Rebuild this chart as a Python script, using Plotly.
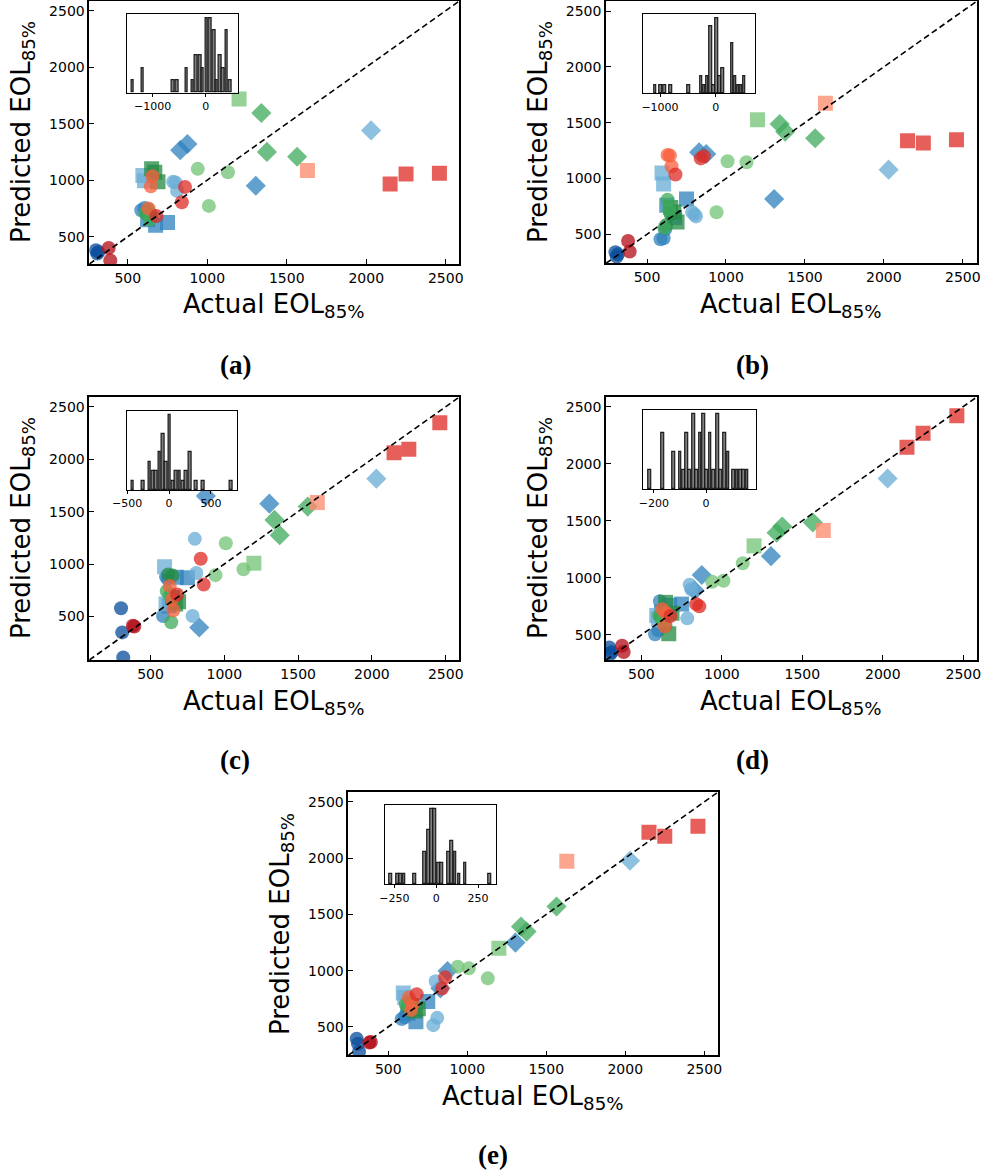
import plotly.graph_objects as go

W, H = 985, 1171

# ---- test set: one entry per cell -------------------------------------------
# colour family / shade and marker shape for every cell
shade = ["DB", "DB", "DB", "MB", "MB", "MB", "LB", "LB", "MB", "MB", "MB",
         "LB", "LB", "LB", "MB", "MB", "MB", "LB",
         "DG", "DG", "DG", "DG", "DG", "MG", "MG", "MG", "LG", "LG", "LG", "LG",
         "MG", "MG", "MG",
         "DR", "DR", "O", "O", "O", "R", "R", "R", "LR", "R", "R", "R"]
shape = ["circle", "circle", "circle", "circle", "circle", "circle", "square", "square",
         "square", "square", "square", "circle", "circle", "circle",
         "diamond", "diamond", "diamond", "diamond",
         "square", "square", "square", "circle", "circle", "circle", "circle", "circle",
         "circle", "circle", "circle", "square", "diamond", "diamond", "diamond",
         "circle", "circle", "circle", "circle", "circle", "circle", "circle", "circle",
         "square", "square", "square", "square"]

actual = [300, 308, 315, 585, 605, 615, 595, 605, 625, 675, 750, 785, 800, 810,
          830, 875, 1305, 2030,
          650, 670, 690, 620, 650, 610, 630, 640, 940, 1010, 1130, 1200,
          1340, 1375, 1565,
          380, 390, 630, 645, 655, 680, 840, 860, 1630, 2150, 2250, 2460]

pred_a = [380, 350, 365, 733, 754, 720, 1040, 995, 650, 600, 625, 985, 980, 905,
          1265, 1320, 950, 1440,
          1100, 1070, 985, 700, 690, 710, 740, 650, 1100, 772, 1070, 1718,
          1594, 1250, 1207,
          400, 290, 750, 945, 1035, 682, 805, 940, 1085, 965, 1055, 1062]

pred_b = [340, 300, 320, 455, 465, 545, 1050, 950, 760, 650, 815, 700, 680, 660,
          1234, 1219, 816, 1079,
          740, 700, 610, 580, 680, 555, 810, 720, 697, 1154, 1145, 1527,
          1488, 1419, 1360,
          440, 345, 1210, 1205, 1110, 1035, 1180, 1200, 1673, 1339, 1318, 1348]

pred_c = [579, 348, 110, 505, 880, 860, 975, 620, 600, 875, 870, 505, 1240, 915,
          395, 1649, 1576, 1814,
          680, 620, 640, 900, 890, 740, 700, 445, 894, 1198, 951, 1008,
          1421, 1275, 1548,
          411, 405, 790, 660, 560, 710, 1050, 805, 1586, 2062, 2094, 2348]

pred_d = [390, 335, 350, 505, 540, 795, 670, 640, 700, 760, 770, 645, 940, 900,
          890, 1025, 1190, 1870,
          785, 510, 690, 660, 580, 670, 620, 700, 965, 975, 1128, 1280,
          1395, 1450, 1485,
          405, 350, 725, 575, 690, 665, 770, 750, 1415, 2145, 2267, 2420]

pred_e = [395, 350, 280, 570, 585, 620, 800, 760, 620, 545, 725, 515, 905, 580,
          842, 996, 1249, 1977,
          690, 640, 660, 680, 710, 700, 720, 660, 1035, 1020, 931, 1198,
          1391, 1347, 1570,
          360, 365, 760, 650, 700, 790, 840, 940, 1971, 2230, 2194, 2283]

# ---- residual histograms (bin centre, count) --------------------------------
hist_a_x = [-1377, -1189, -610, -541, -358, -245, -176, -107, -57, 19, 82, 157,
            208, 270, 333, 396, 459]
hist_a_n = [1, 2, 1, 1, 2, 1, 3, 3, 2, 6, 6, 5, 1, 3, 2, 5, 1]

hist_b_x = [-1082, -984, -918, -809, -481, -262, -208, -153, -87, -33, 22, 77,
            131, 295, 350, 404, 459, 514]
hist_b_n = [1, 1, 1, 1, 1, 2, 1, 2, 8, 1, 9, 2, 3, 6, 2, 1, 1, 2]

hist_c_x = [-432, -312, -232, -192, -152, -112, -72, -32, 8, 48, 88, 128, 168,
            208, 256, 328, 408, 740]
hist_c_n = [1, 1, 3, 2, 2, 4, 6, 3, 8, 1, 2, 2, 1, 2, 4, 1, 1, 1]

hist_d_x = [-215, -165, -125, -99, -86, -74, -61, -48, -35, -22, -9, 4, 17, 30,
            45, 58, 71, 86, 107, 120, 133, 146, 159]
hist_d_n = [1, 3, 2, 2, 1, 3, 1, 4, 1, 3, 4, 1, 3, 1, 4, 1, 3, 2, 1, 1, 1, 1, 1]

hist_e_x = [-270, -230, -210, -190, -126, -66, -46, -26, -10, 14, 34, 74, 94,
            114, 138, 174, 318]
hist_e_n = [1, 1, 1, 1, 1, 3, 5, 7, 7, 2, 2, 3, 4, 3, 1, 2, 1]

bin_width = {"a": 63, "b": 55, "c": 40, "d": 12.9, "e": 20.3}

# ---- styling ----------------------------------------------------------------
palette = {
    "DB": "#0b4f9c", "MB": "#3182bd", "LB": "#6baed6",
    "DG": "#238b45", "MG": "#41ab5d", "LG": "#74c476",
    "DR": "#b30d18", "R": "#de2d26", "O": "#f8603e", "LR": "#fc8a6c",
}
marker_size = {"circle": 14, "square": 15, "diamond": 15.5}
draw_order = ["DB", "MB", "LB", "DG", "MG", "LG", "DR", "O", "R", "LR"]

TICK_FONT = dict(family="DejaVu Sans", size=14, color="black")
INSET_FONT = dict(family="DejaVu Sans", size=11, color="black")
TITLE_FONT = dict(family="DejaVu Sans", size=26, color="black")
LABEL_FONT = dict(family="Liberation Serif", size=27, color="black")

# pixel boxes: main axes, inset axes, axis limits, inset limits
panels = [
    dict(key="a", pred=pred_a, hx=hist_a_x, hn=hist_a_n,
         box=(89.3, 459.3, 1, 264), inset=(126.7, 237.7, 14.3, 92.7),
         lim=(258, 2585), ilim=(-1490, 604), idt=1000, iy=6.3,
         xt=(274, 306), yt=(22, 132), lab=(235, 365)),
    dict(key="b", pred=pred_b, hx=hist_b_x, hn=hist_b_n,
         box=(606, 977, 1, 263.3), inset=(643.3, 755, 14.3, 93.3),
         lim=(240, 2590), ilim=(-1300, 706), idt=1000, iy=9.45,
         xt=(791, 306), yt=(539, 132), lab=(752, 365)),
    dict(key="c", pred=pred_c, hx=hist_c_x, hn=hist_c_n,
         box=(89.3, 459, 397.3, 660), inset=(126.7, 237.3, 411, 490),
         lim=(85, 2590), ilim=(-505, 815), idt=500, iy=8.4,
         xt=(274, 702), yt=(22, 528), lab=(235, 760)),
    dict(key="d", pred=pred_d, hx=hist_d_x, hn=hist_d_n,
         box=(606, 977.3, 396.7, 660), inset=(643.3, 755.7, 410, 489.3),
         lim=(280, 2587), ilim=(-241, 191), idt=200, iy=4.2,
         xt=(791, 702), yt=(539, 528), lab=(752, 760)),
    dict(key="e", pred=pred_e, hx=hist_e_x, hn=hist_e_n,
         box=(348.3, 717.7, 792.3, 1055.3), inset=(385.3, 496.3, 805, 884.3),
         lim=(247, 2585), ilim=(-304, 359), idt=250, iy=7.35,
         xt=(533, 1097), yt=(281, 924), lab=(493, 1155)),
]


def xdom(x0, x1):
    return [x0 / W, x1 / W]


def ydom(y0, y1):
    return [1 - y1 / H, 1 - y0 / H]


fig = go.Figure()
layout = {}
annotations = []

for i, p in enumerate(panels):
    m = 2 * i + 1          # main axes index
    n = 2 * i + 2          # inset axes index
    mx, my = f"x{m}", f"y{m}"
    nx, ny = f"x{n}", f"y{n}"

    # scatter of predicted vs actual, one trace per colour/shape group
    for sh in draw_order:
        for sym in ["circle", "square", "diamond"]:
            idx = [k for k in range(len(actual)) if shade[k] == sh and shape[k] == sym]
            if not idx:
                continue
            fig.add_trace(go.Scatter(
                x=[actual[k] for k in idx], y=[p["pred"][k] for k in idx],
                mode="markers", xaxis=mx, yaxis=my, showlegend=False,
                marker=dict(symbol=sym, size=marker_size[sym], color=palette[sh],
                            opacity=0.76, line=dict(width=0)),
                hoverinfo="skip"))

    # parity line
    lo, hi = p["lim"]
    fig.add_trace(go.Scatter(x=[lo, hi], y=[lo, hi], mode="lines", xaxis=mx, yaxis=my,
                             showlegend=False, hoverinfo="skip",
                             line=dict(color="black", width=1.6, dash="6px,3.5px")))

    # inset histogram of residuals
    fig.add_trace(go.Bar(x=p["hx"], y=p["hn"], width=bin_width[p["key"]] * 0.8,
                         xaxis=nx, yaxis=ny, showlegend=False, hoverinfo="skip",
                         marker=dict(color="rgba(105,105,105,0.85)",
                                     line=dict(color="rgba(20,20,20,0.95)", width=1.2))))

    x0, x1, y0, y1 = p["box"]
    axis_common = dict(showgrid=False, zeroline=False, showline=True, mirror=True,
                       linecolor="black", linewidth=1.5, ticks="inside", ticklen=5,
                       tickwidth=1.2, tickcolor="black", tickfont=TICK_FONT,
                       tick0=0, dtick=500, range=[lo, hi], automargin=False)
    layout[f"xaxis{m}"] = dict(domain=xdom(x0, x1), anchor=my, **axis_common)
    layout[f"yaxis{m}"] = dict(domain=ydom(y0, y1), anchor=mx, **axis_common)

    ix0, ix1, iy0, iy1 = p["inset"]
    layout[f"xaxis{n}"] = dict(domain=xdom(ix0, ix1), anchor=ny, range=list(p["ilim"]),
                               showgrid=False, zeroline=False, showline=True, mirror=True,
                               linecolor="black", linewidth=1.2, ticks="outside",
                               ticklen=3, tickwidth=1, tickcolor="black",
                               tick0=0, dtick=p["idt"], tickfont=INSET_FONT,
                               automargin=False)
    layout[f"yaxis{n}"] = dict(domain=ydom(iy0, iy1), anchor=nx, range=[0, p["iy"]],
                               showgrid=False, zeroline=False, showline=True, mirror=True,
                               linecolor="black", linewidth=1.2, ticks="",
                               showticklabels=False, automargin=False)

    annotations.append(dict(text="Actual EOL<sub>85%</sub>", x=p["xt"][0] / W,
                            y=1 - p["xt"][1] / H, xref="paper", yref="paper",
                            showarrow=False, font=TITLE_FONT,
                            xanchor="center", yanchor="middle"))
    annotations.append(dict(text="Predicted EOL<sub>85%</sub>", x=p["yt"][0] / W,
                            y=1 - p["yt"][1] / H, xref="paper", yref="paper",
                            showarrow=False, font=TITLE_FONT, textangle=-90,
                            xanchor="center", yanchor="middle"))
    annotations.append(dict(text=f"<b>({p['key']})</b>", x=p["lab"][0] / W,
                            y=1 - p["lab"][1] / H, xref="paper", yref="paper",
                            showarrow=False, font=LABEL_FONT,
                            xanchor="center", yanchor="middle"))

fig.update_layout(template="none", width=W, height=H,
                  margin=dict(l=0, r=0, t=0, b=0, autoexpand=False),
                  paper_bgcolor="white", plot_bgcolor="white", bargap=0,
                  annotations=annotations, **layout)

fig.write_html("out.html")
